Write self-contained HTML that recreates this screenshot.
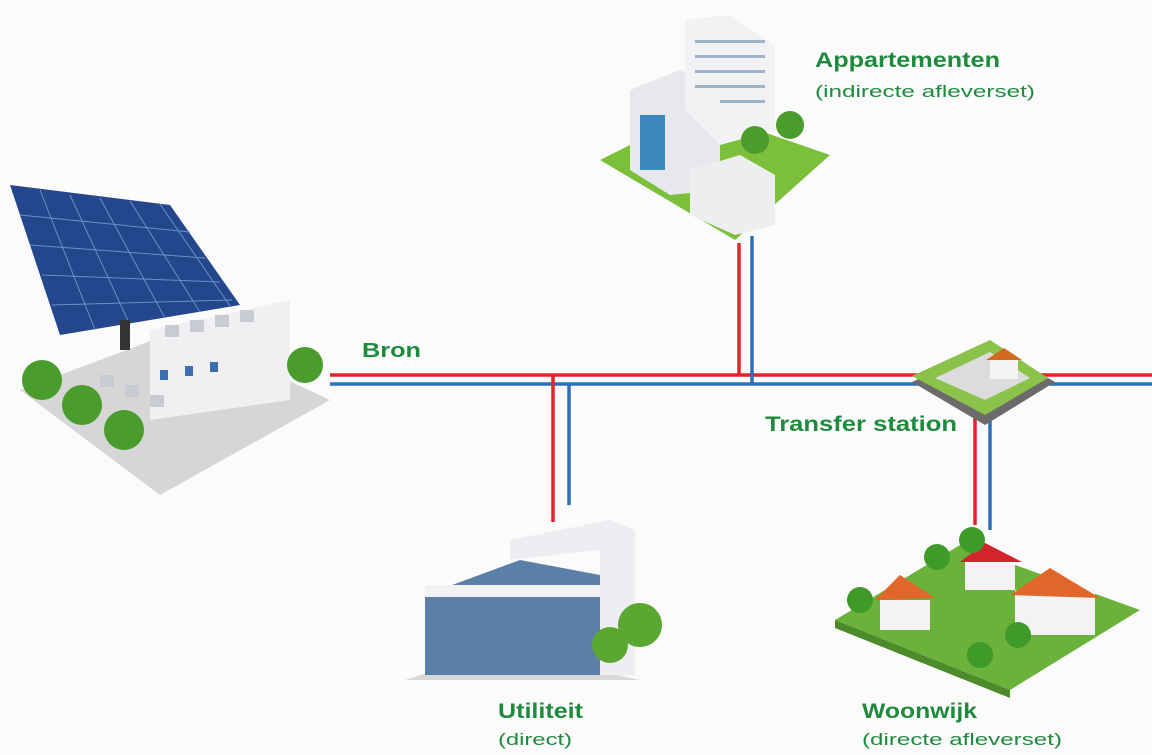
<!DOCTYPE html>
<html><head><meta charset="utf-8"><style>
body{margin:0;background:#fbfbfb;}
svg{display:block}
text{font-family:"Liberation Sans",sans-serif;font-weight:bold;fill:#1f8a3e}
text.s{font-weight:normal}
</style></head><body>
<svg width="1152" height="755" viewBox="0 0 1152 755">
<rect width="1152" height="755" fill="#fbfbfb"/>
<!-- pipes -->
<g stroke-width="3.5" fill="none">
<path d="M330 375H1152" stroke="#e8202a"/>
<path d="M330 384H1152" stroke="#2f6fb8"/>
<path d="M739 243V375" stroke="#e8202a"/>
<path d="M752 236V384" stroke="#2f6fb8"/>
<path d="M553 375V522" stroke="#e8202a"/>
<path d="M569 384V505" stroke="#2f6fb8"/>
<path d="M975 415V525" stroke="#e8202a"/>
<path d="M990 420V530" stroke="#2f6fb8"/>
</g>
<!-- solar plant -->
<polygon points="20,390 180,330 330,400 160,495" fill="#d6d6d6"/>
<polygon points="150,330 290,300 290,400 150,420" fill="#f0f0f2"/>
<g fill="#c8ccd2"><rect x="165" y="325" width="14" height="12"/><rect x="190" y="320" width="14" height="12"/><rect x="215" y="315" width="14" height="12"/><rect x="240" y="310" width="14" height="12"/><rect x="100" y="375" width="14" height="12"/><rect x="125" y="385" width="14" height="12"/><rect x="150" y="395" width="14" height="12"/></g>
<g fill="#3c6fb0"><rect x="160" y="370" width="8" height="10"/><rect x="185" y="366" width="8" height="10"/><rect x="210" y="362" width="8" height="10"/></g>
<polygon points="10,185 170,205 240,305 60,335" fill="#23468c"/>
<g stroke="#6f8fc8" stroke-width="1">
<path d="M40,190 L95,330 M70,195 L130,325 M100,198 L165,318 M130,201 L200,312 M160,204 L230,306"/>
<path d="M20,215 L190,232 M30,245 L205,258 M42,275 L220,282 M52,305 L232,300"/>
</g>
<rect x="120" y="320" width="10" height="30" fill="#333"/>
<g fill="#4a9c2c"><circle cx="42" cy="380" r="20"/><circle cx="82" cy="405" r="20"/><circle cx="124" cy="430" r="20"/><circle cx="305" cy="365" r="18"/></g>
<!-- apartments -->
<polygon points="600,160 700,110 830,155 735,240" fill="#7bbf3a"/>
<polygon points="630,90 680,70 720,90 720,190 670,195 630,170" fill="#e6e8ec"/>
<polygon points="685,20 730,15 775,45 775,130 720,145 685,110" fill="#f2f2f4"/>
<g fill="#9fb3c8"><rect x="695" y="40" width="70" height="3"/><rect x="695" y="55" width="70" height="3"/><rect x="695" y="70" width="70" height="3"/><rect x="695" y="85" width="70" height="3"/><rect x="720" y="100" width="45" height="3"/></g>
<polygon points="690,170 740,155 775,175 775,225 735,235 690,215" fill="#eceef0"/>
<g fill="#3c86bd"><rect x="640" y="115" width="25" height="55"/></g>
<g fill="#4a9c2c"><circle cx="755" cy="140" r="14"/><circle cx="790" cy="125" r="14"/></g>
<text x="815" y="67" font-size="21" textLength="185" lengthAdjust="spacingAndGlyphs">Appartementen</text>
<text x="815" y="97" font-size="17" class="s" textLength="220" lengthAdjust="spacingAndGlyphs">(indirecte afleverset)</text>
<!-- transfer station -->
<polygon points="912,382 990,345 1055,382 985,425" fill="#6b6b6b"/>
<polygon points="912,376 990,340 1048,378 985,415" fill="#8bc34a"/>
<polygon points="935,378 990,352 1030,378 985,400" fill="#dcdcdc"/>
<rect x="990" y="357" width="28" height="22" fill="#f4f4f4"/>
<polygon points="986,360 1004,348 1022,360" fill="#d2691e"/>
<text x="765" y="431" font-size="21" textLength="192" lengthAdjust="spacingAndGlyphs">Transfer station</text>
<text x="362" y="357" font-size="20" textLength="59" lengthAdjust="spacingAndGlyphs">Bron</text>
<!-- utiliteit -->
<polygon points="405,680 500,650 640,680" fill="#d8d8d8"/>
<polygon points="425,595 520,560 600,575 600,675 425,675" fill="#5c7fa8"/>
<polygon points="510,540 610,520 635,530 635,675 600,675 600,550 510,560" fill="#eceef1"/>
<rect x="425" y="585" width="175" height="12" fill="#f2f2f2"/>
<g fill="#5aa832"><circle cx="640" cy="625" r="22"/><circle cx="610" cy="645" r="18"/></g>
<text x="498" y="718" font-size="21" textLength="85" lengthAdjust="spacingAndGlyphs">Utiliteit</text>
<text x="498" y="745" font-size="17" class="s" textLength="74" lengthAdjust="spacingAndGlyphs">(direct)</text>
<!-- woonwijk -->
<polygon points="835,620 960,545 1140,610 1010,690" fill="#6ab23a"/>
<polygon points="835,620 1010,690 1010,698 835,628" fill="#4d8a2a"/>
<g fill="#f3f3f3"><rect x="880" y="600" width="50" height="30"/><rect x="965" y="560" width="50" height="30"/><rect x="1015" y="590" width="80" height="45"/></g>
<g fill="#e0662a"><polygon points="875,600 900,575 935,598"/><polygon points="1010,595 1050,568 1100,598"/></g>
<polygon points="960,562 985,543 1022,562" fill="#d3232b"/>
<g fill="#3f9a2a"><circle cx="860" cy="600" r="13"/><circle cx="937" cy="557" r="13"/><circle cx="972" cy="540" r="13"/><circle cx="980" cy="655" r="13"/><circle cx="1018" cy="635" r="13"/></g>
<text x="862" y="718" font-size="21" textLength="115" lengthAdjust="spacingAndGlyphs">Woonwijk</text>
<text x="862" y="745" font-size="17" class="s" textLength="200" lengthAdjust="spacingAndGlyphs">(directe afleverset)</text>
</svg>
</body></html>
